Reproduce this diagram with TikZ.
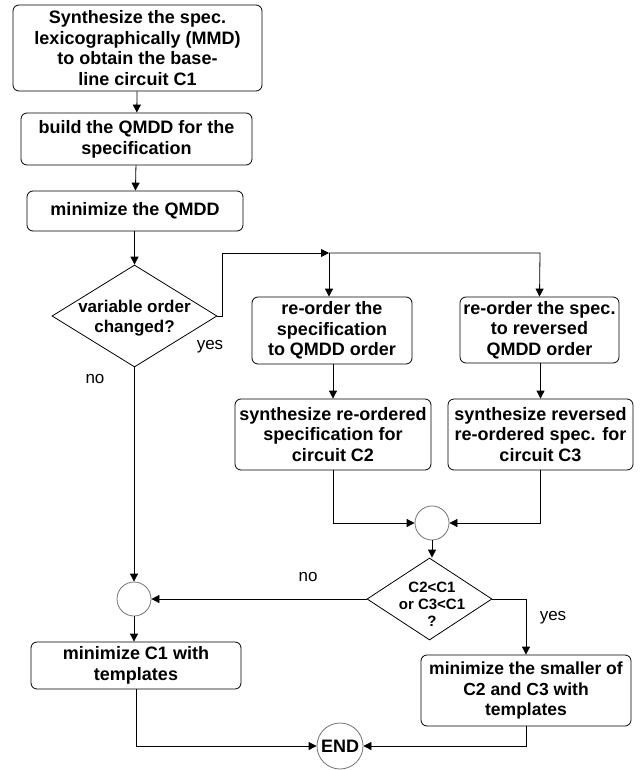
\documentclass[tikz,border=0pt]{standalone}
\usepackage{fontspec}
\setmainfont{Liberation Sans}
\usetikzlibrary{arrows.meta,shapes.geometric}
\tikzset{
  box/.style={draw=black,line width=0.8pt,rounded corners=6pt,align=center,inner sep=2pt,
    font=\bfseries\fontsize{18}{20.7}\selectfont},
  dec/.style={draw=black,line width=0.8pt,diamond,inner sep=0pt},
  dectext/.style={align=center,inner sep=0pt},
  junc/.style={draw=black!55,line width=0.8pt,circle,inner sep=0pt},
  conn/.style={line width=0.8pt,-{Triangle[length=8pt,width=8pt]}},
  plain/.style={line width=0.8pt},
  lbl/.style={font=\fontsize{17}{19}\selectfont}
}
\begin{document}
\begin{tikzpicture}[x=1pt,y=-1pt]
\useasboundingbox (0,0) rectangle (643,770);
\node[box,minimum width=249pt,minimum height=86pt] (b1) at (137.5,48) {Synthesize the spec.\\lexicographically (MMD)\\to obtain the base-\\line circuit C1};
\node[box,minimum width=231pt,minimum height=52pt] (b2) at (136.5,139) {build the QMDD for the\\specification};
\node[box,minimum width=216pt,minimum height=40pt] (b3) at (135,211) {minimize the QMDD};
\node[dec,minimum width=165pt,minimum height=102pt] (d1) at (134.5,316) {};
\node[dectext,font=\bfseries\fontsize{17}{20}\selectfont] (d1t) at (134.5,318) {variable order\\changed?};
\node[box,minimum width=160pt,minimum height=67pt] (b4) at (332,330.5) {re-order the\\specification\\to QMDD order};
\node[box,minimum width=159pt,minimum height=66pt] (b5) at (539.5,330) {re-order the spec.\\to reversed\\QMDD order};
\node[box,minimum width=196pt,minimum height=71pt] (b6) at (333,434.5) {synthesize re-ordered\\specification for\\circuit C2};
\node[box,minimum width=185pt,minimum height=71pt] (b7) at (540.5,434.5) {synthesize reversed\\re-ordered spec. for\\circuit C3};
\node[junc,minimum size=34pt] (m1) at (432,523) {};
\node[dec,minimum width=125pt,minimum height=82pt] (d2) at (429.5,599) {};
\node[dectext,font=\bfseries\fontsize{15}{17}\selectfont] (d2t) at (432,604) {C2<C1\\or C3<C1\\?};
\node[junc,minimum size=34pt] (m2) at (134,599) {};
\node[box,minimum width=210pt,minimum height=47pt] (b8) at (136,665.5) {minimize C1 with\\templates};
\node[box,minimum width=210pt,minimum height=71pt,font=\bfseries\fontsize{17.5}{20.7}\selectfont] (b9) at (526,690.5) {minimize the smaller of\\C2 and C3 with\\templates};
\node[junc,minimum size=46pt,font=\bfseries\fontsize{18}{20}\selectfont] (end) at (340,746) {END};

\coordinate (J) at (329,253);
\coordinate (Jr) at (540,253);

\draw[conn] (b1) -- (b2);
\draw[conn] (b2) -- (b3);
\draw[conn] (b3.south -| d1.north) -- (d1.north);
\draw[conn] (d1.east) -- ++(5,0) |- (J);
\draw[conn] (J) -- (J |- b4.north);
\draw[conn] (J) -- (Jr) -- (b5.north);
\draw[conn] (b4.south -| b6.north) -- (b6.north);
\draw[conn] (b5.south -| b7.north) -- (b7.north);
\draw[conn] (b6.south) |- (m1.west);
\draw[conn] (b7.south) |- (m1.east);
\draw[conn] (m1.south) -- (m1.south |- d2.north);
\draw[conn] (d2.west) -- (m2.east);
\draw[conn] (d2.east) -| (b9.north);
\draw[conn] (d1.south) -- (d1.south -| m2.north) -- (m2.north);
\draw[conn] (m2.south) -- (m2.south |- b8.north);
\draw[conn] (b8.south) |- (end.west);
\draw[conn] (b9.south) |- (end.east);

\node[lbl] (yes1) at (210,347) {yes};
\node[lbl] (no1) at (95,379) {no};
\node[lbl] (no2) at (308,577) {no};
\node[lbl] (yes2) at (553,618) {yes};
\end{tikzpicture}
\end{document}
